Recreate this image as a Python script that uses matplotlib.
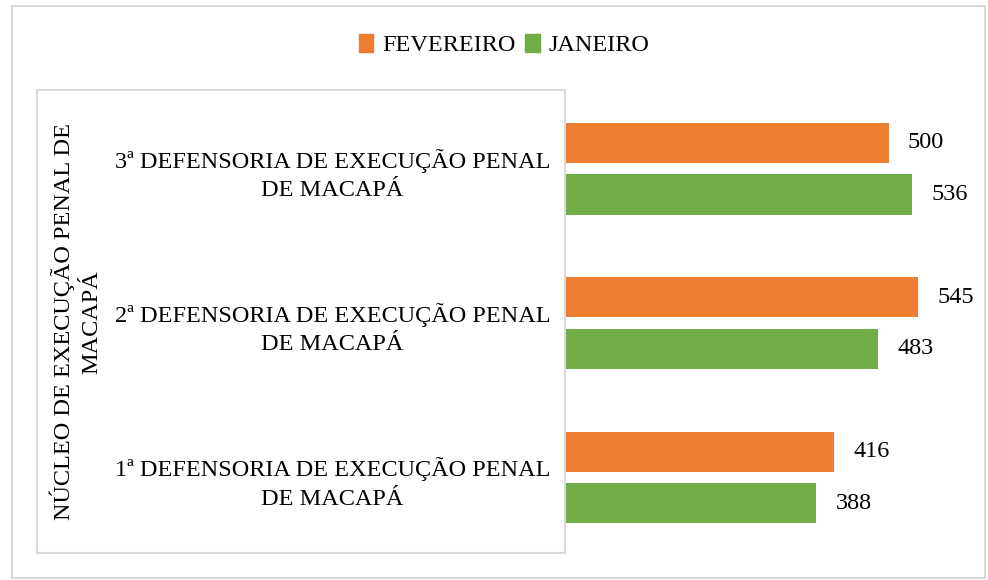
import matplotlib.pyplot as plt
from matplotlib.patches import Rectangle, Patch
import numpy as np

# data (bottom to top)
categorias = ["1ª DEFENSORIA DE EXECUÇÃO PENAL\nDE MACAPÁ",
              "2ª DEFENSORIA DE EXECUÇÃO PENAL\nDE MACAPÁ",
              "3ª DEFENSORIA DE EXECUÇÃO PENAL\nDE MACAPÁ"]
fevereiro = [416, 545, 500]
janeiro = [388, 483, 536]
grupo = "NÚCLEO DE EXECUÇÃO PENAL DE\nMACAPÁ"

laranja = '#ED7D31'
verde = '#70AD47'
borda = '#d9d9d9'
fs = 17.5

plt.rcParams['font.family'] = ['Liberation Serif', 'DejaVu Serif']

W, H = 988, 580
fig = plt.figure(figsize=(W/100, H/100), dpi=100)

# outer frame and inner label box (pixel coords from top-left)
def px_rect(x0, y0, x1, y1):
    return Rectangle((x0/W, 1 - y1/H), (x1-x0)/W, (y1-y0)/H, transform=fig.transFigure,
                     fill=False, edgecolor=borda, linewidth=1.5)

fig.patches.append(px_rect(12, 6, 985, 578))
fig.patches.append(px_rect(37, 90, 565, 553))

ax = fig.add_axes([566/W, 27/H, 409/W, 463/H])
y = np.arange(len(categorias))
h = 0.26
off = 0.167
b1 = ax.barh(y + off, fevereiro, height=h, color=laranja, label='FEVEREIRO')
b2 = ax.barh(y - off, janeiro, height=h, color=verde, label='JANEIRO')
ax.bar_label(b1, padding=14, fontsize=fs)
ax.bar_label(b2, padding=14, fontsize=fs)

ax.set_xlim(0, 634)
ax.set_ylim(-0.49, 2.51)
ax.set_xticks([])
ax.set_yticks(y, categorias)
ax.tick_params(axis='y', length=0, pad=168)
for lab in ax.get_yticklabels():
    lab.set_ha('center')
    lab.set_multialignment('center')
    lab.set_fontsize(fs)
    lab.set_linespacing(1.45)
for s in ax.spines.values():
    s.set_visible(False)
ax.patch.set_alpha(0)

fig.text(76/W, 1 - 322/H, grupo, rotation=90, ha='center', va='center',
         multialignment='center', fontsize=fs, linespacing=1.4)

handles = [Patch(color=laranja), Patch(color=verde)]
fig.legend(handles, ['FEVEREIRO', 'JANEIRO'], loc='center', bbox_to_anchor=(0.51, 1 - 45/H),
           ncol=2, frameon=False, fontsize=fs, handlelength=0.6, handleheight=0.8,
           handletextpad=0.35, columnspacing=0.4)

fig.savefig('out.png', dpi=100)
